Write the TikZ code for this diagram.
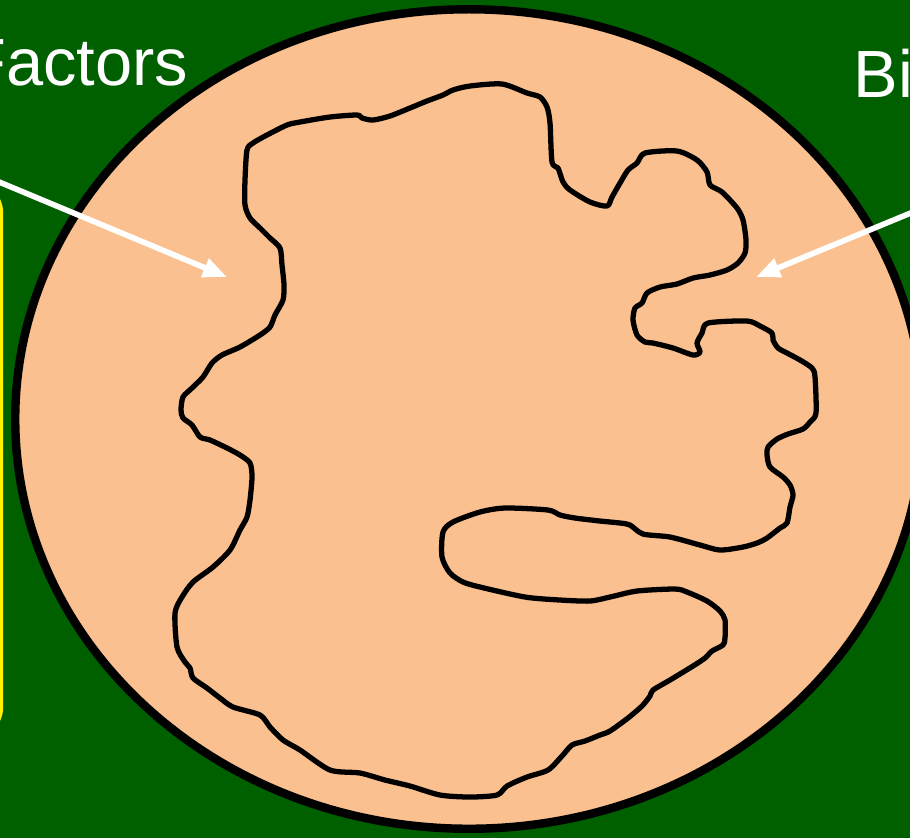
\documentclass[tikz,border=0pt]{standalone}
\usepackage{fontspec}
\setmainfont{Liberation Sans}
\usepackage{tikz}
\usetikzlibrary{arrows.meta,positioning,shapes.geometric}
\usepackage{xcolor}
\definecolor{slidegreen}{RGB}{0,96,0}
\definecolor{peach}{RGB}{250,192,143}

\begin{document}
\begin{tikzpicture}[
    x=0.01cm, y=-0.01cm,
    cell/.style={
        ellipse,
        draw=black,
        fill=peach,
        line width=2.4pt,
        minimum width=9.07cm,
        minimum height=8.19cm,
        inner sep=0pt
    },
    outline/.style={
        draw=black,
        line width=1.5pt,
        line join=round
    },
    label/.style={
        text=white,
        inner sep=0pt,
        font=\fontsize{19}{23}\selectfont
    },
    pointer/.style={
        -{Triangle[length=0.24cm,width=0.19cm]},
        draw=white,
        line width=1.6pt
    }
]

    % Background
    \clip (0,0) rectangle (910,838);
    \fill[slidegreen] (0,0) rectangle (910,838);
    \draw[yellow, line width=0.9pt, rounded corners=8pt] (-40,184) rectangle (1.5,736);

    % Nodes
    \node (cell) [cell] at (469,419) {};
    \node (factors) [label, anchor=base east] at (189,85) {Factors};
    \node (bio) [label, anchor=base west] at (853,97) {Bio};

    % Membrane outline
    \draw[outline] plot[smooth cycle, tension=0.45] coordinates {
        (247,150) (253,143) (267,135) (287,125) (300,122) (330,117) (357,115) (362,118)
        (373,120) (390,116) (410,108) (427,101) (443,95) (453,90) (470,86) (502,84)
        (527,93) (540,97) (547,107) (550,123) (552,162) (558,168) (563,182) (570,190)
        (590,202) (607,206) (612,197) (620,183) (628,170) (637,163) (645,153) (677,151)
        (697,160) (707,172) (710,185) (722,192) (737,208) (743,220) (746,240) (745,253)
        (738,263) (727,270) (710,275) (693,278) (677,284) (660,287) (647,293) (642,303)
        (635,308) (633,320) (637,335) (645,342) (653,343) (673,348) (693,355) (700,352)
        (697,343) (702,333) (708,323) (747,321) (760,326) (772,333) (773,340) (778,348)
        (787,353) (800,360) (812,368) (815,377) (816,413) (810,422) (803,429) (788,434)
        (777,439) (768,447) (767,455) (770,467) (783,477) (790,485) (793,495) (790,507)
        (787,523) (780,528) (767,538) (757,543) (743,547) (720,550) (700,545) (670,537)
        (643,534) (630,525) (620,523) (600,521) (575,518) (560,515) (548,510) (505,508)
        (480,512) (453,522) (443,532) (442,557) (450,573) (463,582) (480,587) (525,597)
        (560,600) (590,601) (610,597) (637,591) (675,589) (687,592) (707,601) (720,611)
        (725,620) (725,638) (723,645) (712,651) (705,658) (693,666) (670,680) (653,690)
        (650,696) (642,706) (628,718) (610,731) (600,735) (585,741) (572,745) (562,756)
        (548,770) (527,777) (507,786) (497,795) (470,797) (440,795) (410,786) (385,780)
        (360,773) (330,770) (300,750) (283,740) (270,727) (260,715) (233,707) (220,698)
        (207,688) (193,678) (190,668) (185,662) (177,647) (175,613) (182,597) (193,582)
        (213,567) (230,550) (240,530) (247,517) (250,500) (252,477) (250,463) (240,455)
        (227,448) (210,440) (200,437) (192,425) (183,418) (181,410) (183,397) (192,388)
        (203,377) (212,363) (222,355) (240,347) (260,335) (270,327) (275,315) (283,300)
        (284,285) (282,265) (280,248) (270,238) (260,228) (250,218) (245,205) (245,180)
    };

    % Arrows
    \coordinate (factorstail) at (-20,174);
    \coordinate (factorstip)  at (227,277);
    \coordinate (biotail)     at (930,205);
    \coordinate (biotip)      at (756,277);
    \draw [pointer] (factorstail) -- (factorstip);
    \draw [pointer] (biotail) -- (biotip);

\end{tikzpicture}
\end{document}
